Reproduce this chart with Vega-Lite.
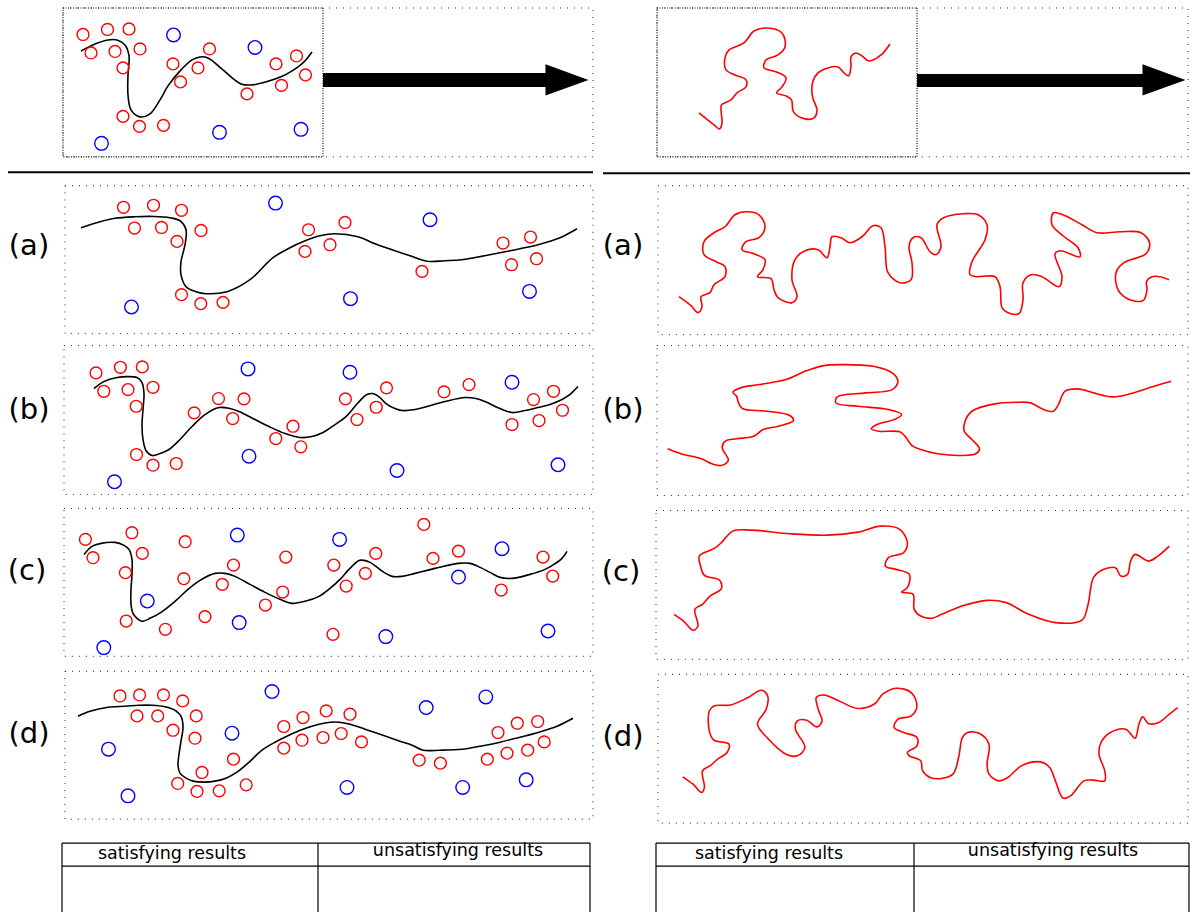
{
"$schema": "https://vega.github.io/schema/vega-lite/v6.json",
"width": 1192, "height": 913,
"autosize": {"type": "fit", "contains": "padding"},
"padding": 0,
"background": "white",
"config": {"view": {"stroke": null}},
"datasets": {
"boxes": [
{"kind":"outer","x":63,"x2":593,"y":8,"y2":157},
{"kind":"outer","x":657,"x2":1188,"y":8,"y2":157},
{"kind":"outer","x":65,"x2":593,"y":186,"y2":334},
{"kind":"outer","x":64,"x2":593,"y":346,"y2":495},
{"kind":"outer","x":64,"x2":593,"y":509,"y2":657},
{"kind":"outer","x":65,"x2":593,"y":672,"y2":820},
{"kind":"outer","x":658,"x2":1188,"y":186,"y2":335},
{"kind":"outer","x":657,"x2":1188,"y":346,"y2":496},
{"kind":"outer","x":656,"x2":1188,"y":511,"y2":660},
{"kind":"outer","x":658,"x2":1188,"y":675,"y2":824},
{"kind":"inner","x":63,"x2":323,"y":8,"y2":157},
{"kind":"inner","x":657,"x2":917,"y":8,"y2":157}
],
"rules": [
{"kind":"sep","x":8,"x2":593,"y":172.5,"y2":172.5},
{"kind":"sep","x":603,"x2":1190,"y":173.5,"y2":173.5},
{"kind":"table","x":62,"x2":590,"y":844,"y2":844},
{"kind":"table","x":62,"x2":590,"y":867,"y2":867},
{"kind":"table","x":62,"x2":62,"y":844,"y2":913},
{"kind":"table","x":318,"x2":318,"y":844,"y2":913},
{"kind":"table","x":590,"x2":590,"y":844,"y2":913},
{"kind":"table","x":656,"x2":1189,"y":844,"y2":844},
{"kind":"table","x":656,"x2":1189,"y":867,"y2":867},
{"kind":"table","x":656,"x2":656,"y":844,"y2":913},
{"kind":"table","x":914,"x2":914,"y":844,"y2":913},
{"kind":"table","x":1189,"x2":1189,"y":844,"y2":913}
],
"shafts": [
{"x":323,"x2":548,"y":73,"y2":87},
{"x":917,"x2":1145,"y":74,"y2":87}
],
"heads": [
{"x":567,"y":80},
{"x":1164,"y":80}
],
"labels": [
{"x":29,"y":246,"t":"(a)"},{"x":29,"y":410,"t":"(b)"},{"x":27,"y":572,"t":"(c)"},{"x":29,"y":735,"t":"(d)"},
{"x":623,"y":246,"t":"(a)"},{"x":623,"y":410,"t":"(b)"},{"x":621,"y":573,"t":"(c)"},{"x":623,"y":738,"t":"(d)"}
],
"headers": [
{"x":172,"y":855,"t":"satisfying results"},{"x":458,"y":852,"t":"unsatisfying results"},
{"x":769,"y":855,"t":"satisfying results"},{"x":1053,"y":852,"t":"unsatisfying results"}
],
"circles": [
{"p":"top","k":"red","x":83,"y":34.5},{"p":"top","k":"red","x":107.5,"y":29.5},{"p":"top","k":"red","x":129,"y":29},{"p":"top","k":"red","x":91,"y":53},{"p":"top","k":"red","x":115,"y":51.5},{"p":"top","k":"red","x":140,"y":49},{"p":"top","k":"red","x":123,"y":68},{"p":"top","k":"red","x":173,"y":64},{"p":"top","k":"red","x":209.5,"y":49},{"p":"top","k":"red","x":198,"y":68},{"p":"top","k":"red","x":180.5,"y":82},{"p":"top","k":"red","x":276,"y":64},{"p":"top","k":"red","x":296.5,"y":56},{"p":"top","k":"red","x":305.5,"y":75},{"p":"top","k":"red","x":281.5,"y":85.5},{"p":"top","k":"red","x":247,"y":94},{"p":"top","k":"red","x":123,"y":116.5},{"p":"top","k":"red","x":139.5,"y":126.5},{"p":"top","k":"red","x":163.5,"y":125.5},
{"p":"top","k":"blue","x":173.5,"y":35},{"p":"top","k":"blue","x":255,"y":47.5},{"p":"top","k":"blue","x":219.5,"y":132.5},{"p":"top","k":"blue","x":301,"y":129.5},{"p":"top","k":"blue","x":101.5,"y":143.5},
{"p":"a","k":"red","x":123.5,"y":207.5},{"p":"a","k":"red","x":153.5,"y":205.5},{"p":"a","k":"red","x":181.5,"y":210.5},{"p":"a","k":"red","x":134.5,"y":228.3},{"p":"a","k":"red","x":161.5,"y":227.7},{"p":"a","k":"red","x":201,"y":230.7},{"p":"a","k":"red","x":177,"y":241.7},{"p":"a","k":"red","x":181.5,"y":295},{"p":"a","k":"red","x":200.8,"y":304},{"p":"a","k":"red","x":223,"y":302.7},{"p":"a","k":"red","x":308.5,"y":230},{"p":"a","k":"red","x":345,"y":222.7},{"p":"a","k":"red","x":330,"y":245},{"p":"a","k":"red","x":305,"y":251.7},{"p":"a","k":"red","x":422,"y":271.7},{"p":"a","k":"red","x":503,"y":243.3},{"p":"a","k":"red","x":530.5,"y":237.3},{"p":"a","k":"red","x":536.5,"y":259},{"p":"a","k":"red","x":511.5,"y":265},
{"p":"a","k":"blue","x":275.5,"y":203.3},{"p":"a","k":"blue","x":430,"y":220},{"p":"a","k":"blue","x":131.5,"y":307.3},{"p":"a","k":"blue","x":350.5,"y":299},{"p":"a","k":"blue","x":529.5,"y":291.7},
{"p":"b","k":"red","x":96,"y":373.3},{"p":"b","k":"red","x":120.4,"y":367.7},{"p":"b","k":"red","x":142.3,"y":367.3},{"p":"b","k":"red","x":103.8,"y":391.7},{"p":"b","k":"red","x":128,"y":390},{"p":"b","k":"red","x":153,"y":387.7},{"p":"b","k":"red","x":136.2,"y":406.7},{"p":"b","k":"red","x":194.2,"y":413.3},{"p":"b","k":"red","x":218.5,"y":399},{"p":"b","k":"red","x":244,"y":399.3},{"p":"b","k":"red","x":232.7,"y":419},{"p":"b","k":"red","x":293,"y":426.7},{"p":"b","k":"red","x":275.8,"y":439},{"p":"b","k":"red","x":300.8,"y":447.3},{"p":"b","k":"red","x":136.5,"y":455},{"p":"b","k":"red","x":153,"y":465.7},{"p":"b","k":"red","x":176.2,"y":464},{"p":"b","k":"red","x":345.4,"y":399.3},{"p":"b","k":"red","x":386.5,"y":388.3},{"p":"b","k":"red","x":376.2,"y":407.7},{"p":"b","k":"red","x":357,"y":420},{"p":"b","k":"red","x":444,"y":392.3},{"p":"b","k":"red","x":469,"y":385},{"p":"b","k":"red","x":533.5,"y":400},{"p":"b","k":"red","x":553.5,"y":391.7},{"p":"b","k":"red","x":562.5,"y":410.7},{"p":"b","k":"red","x":539,"y":421},{"p":"b","k":"red","x":512,"y":425},
{"p":"b","k":"blue","x":248,"y":369.3},{"p":"b","k":"blue","x":350,"y":372.7},{"p":"b","k":"blue","x":512,"y":382.7},{"p":"b","k":"blue","x":249,"y":456.7},{"p":"b","k":"blue","x":397,"y":471},{"p":"b","k":"blue","x":558,"y":465.3},{"p":"b","k":"blue","x":114.5,"y":482.3},
{"p":"c","k":"red","x":85.4,"y":540},{"p":"c","k":"red","x":131.9,"y":533.3},{"p":"c","k":"red","x":185.2,"y":542.3},{"p":"c","k":"red","x":93,"y":558.3},{"p":"c","k":"red","x":142.3,"y":554},{"p":"c","k":"red","x":125.4,"y":573.3},{"p":"c","k":"red","x":183.8,"y":579.3},{"p":"c","k":"red","x":233.5,"y":565.7},{"p":"c","k":"red","x":222.3,"y":585},{"p":"c","k":"red","x":285.8,"y":557.7},{"p":"c","k":"red","x":282.7,"y":592.7},{"p":"c","k":"red","x":265.4,"y":605.7},{"p":"c","k":"red","x":126.2,"y":621.7},{"p":"c","k":"red","x":165.4,"y":630},{"p":"c","k":"red","x":205,"y":617.3},{"p":"c","k":"red","x":333.8,"y":565.7},{"p":"c","k":"red","x":346.2,"y":586.7},{"p":"c","k":"red","x":365.4,"y":574},{"p":"c","k":"red","x":375.8,"y":554},{"p":"c","k":"red","x":423.8,"y":525},{"p":"c","k":"red","x":433,"y":559},{"p":"c","k":"red","x":458.5,"y":551.7},{"p":"c","k":"red","x":501.2,"y":590.7},{"p":"c","k":"red","x":543,"y":557.7},{"p":"c","k":"red","x":552.7,"y":576.7},{"p":"c","k":"red","x":333,"y":635},
{"p":"c","k":"blue","x":237.3,"y":535.7},{"p":"c","k":"blue","x":339.6,"y":540},{"p":"c","k":"blue","x":502,"y":549.3},{"p":"c","k":"blue","x":458.5,"y":577.7},{"p":"c","k":"blue","x":147.3,"y":601.7},{"p":"c","k":"blue","x":239.2,"y":623.3},{"p":"c","k":"blue","x":385.8,"y":637.3},{"p":"c","k":"blue","x":548,"y":631.7},{"p":"c","k":"blue","x":103.8,"y":648.3},
{"p":"d","k":"red","x":120,"y":696.7},{"p":"d","k":"red","x":139.6,"y":695.7},{"p":"d","k":"red","x":163.5,"y":695.7},{"p":"d","k":"red","x":182.7,"y":701.7},{"p":"d","k":"red","x":137,"y":716.7},{"p":"d","k":"red","x":157.7,"y":716.7},{"p":"d","k":"red","x":196.2,"y":716.7},{"p":"d","k":"red","x":173,"y":731},{"p":"d","k":"red","x":195,"y":739},{"p":"d","k":"red","x":233.5,"y":760},{"p":"d","k":"red","x":202,"y":773.3},{"p":"d","k":"red","x":177.7,"y":784.3},{"p":"d","k":"red","x":197,"y":792.3},{"p":"d","k":"red","x":219.2,"y":791.7},{"p":"d","k":"red","x":246.2,"y":785.7},{"p":"d","k":"red","x":283.8,"y":727.3},{"p":"d","k":"red","x":303,"y":718.3},{"p":"d","k":"red","x":326.2,"y":711.7},{"p":"d","k":"red","x":350,"y":715},{"p":"d","k":"red","x":283.8,"y":749},{"p":"d","k":"red","x":302,"y":741},{"p":"d","k":"red","x":323,"y":738.3},{"p":"d","k":"red","x":341.2,"y":734.3},{"p":"d","k":"red","x":361.5,"y":742.7},{"p":"d","k":"red","x":419.2,"y":761},{"p":"d","k":"red","x":440.4,"y":764},{"p":"d","k":"red","x":498,"y":733.3},{"p":"d","k":"red","x":517.3,"y":724},{"p":"d","k":"red","x":537.7,"y":722.3},{"p":"d","k":"red","x":544.2,"y":742.7},{"p":"d","k":"red","x":527.7,"y":751},{"p":"d","k":"red","x":507,"y":754},{"p":"d","k":"red","x":487.3,"y":760},
{"p":"d","k":"blue","x":272,"y":692.3},{"p":"d","k":"blue","x":485.8,"y":697.7},{"p":"d","k":"blue","x":426.2,"y":708.3},{"p":"d","k":"blue","x":232,"y":734},{"p":"d","k":"blue","x":108.5,"y":750},{"p":"d","k":"blue","x":347,"y":788.3},{"p":"d","k":"blue","x":462.7,"y":788.3},{"p":"d","k":"blue","x":526.2,"y":780.7},{"p":"d","k":"blue","x":128,"y":796.7}
],
"fits": [
{"c":"top","x":81,"y":51},{"c":"top","x":95,"y":44},{"c":"top","x":108,"y":40},{"c":"top","x":117,"y":40},{"c":"top","x":125,"y":45},{"c":"top","x":129,"y":56},{"c":"top","x":128,"y":75},{"c":"top","x":128,"y":95},{"c":"top","x":131,"y":110},{"c":"top","x":140,"y":117},{"c":"top","x":150,"y":114},{"c":"top","x":160,"y":100},{"c":"top","x":168,"y":86},{"c":"top","x":181,"y":70},{"c":"top","x":192,"y":60},{"c":"top","x":200,"y":57},{"c":"top","x":208,"y":58},{"c":"top","x":223,"y":70},{"c":"top","x":241,"y":84},{"c":"top","x":252,"y":85},{"c":"top","x":262,"y":83},{"c":"top","x":285,"y":75},{"c":"top","x":298,"y":67},{"c":"top","x":304,"y":62},{"c":"top","x":312,"y":52},
{"c":"a","x":81,"y":228},{"c":"a","x":100,"y":222},{"c":"a","x":115,"y":218.5},{"c":"a","x":135,"y":217},{"c":"a","x":154,"y":216.7},{"c":"a","x":170,"y":218},{"c":"a","x":180,"y":221},{"c":"a","x":186,"y":230},{"c":"a","x":185,"y":245},{"c":"a","x":181,"y":262},{"c":"a","x":181,"y":275},{"c":"a","x":186,"y":287},{"c":"a","x":196,"y":292},{"c":"a","x":206,"y":294},{"c":"a","x":227,"y":292},{"c":"a","x":250,"y":280},{"c":"a","x":273,"y":258},{"c":"a","x":290,"y":248},{"c":"a","x":304,"y":241.5},{"c":"a","x":320,"y":236},{"c":"a","x":335,"y":234},{"c":"a","x":358,"y":237},{"c":"a","x":375,"y":244},{"c":"a","x":392,"y":250},{"c":"a","x":410,"y":256},{"c":"a","x":427,"y":261.5},{"c":"a","x":445,"y":261},{"c":"a","x":462,"y":260},{"c":"a","x":500,"y":253},{"c":"a","x":520,"y":249},{"c":"a","x":538,"y":245},{"c":"a","x":560,"y":238},{"c":"a","x":577,"y":229},
{"c":"b","x":94,"y":389},{"c":"b","x":104,"y":382},{"c":"b","x":117,"y":378},{"c":"b","x":127,"y":377},{"c":"b","x":137,"y":378},{"c":"b","x":142,"y":383},{"c":"b","x":144,"y":394},{"c":"b","x":143,"y":410},{"c":"b","x":142,"y":425},{"c":"b","x":143,"y":440},{"c":"b","x":146,"y":451},{"c":"b","x":152,"y":456},{"c":"b","x":160,"y":454},{"c":"b","x":169,"y":450},{"c":"b","x":180,"y":440},{"c":"b","x":192,"y":427},{"c":"b","x":205,"y":415},{"c":"b","x":219,"y":408},{"c":"b","x":230,"y":409},{"c":"b","x":239,"y":412},{"c":"b","x":255,"y":420},{"c":"b","x":269,"y":427},{"c":"b","x":285,"y":434},{"c":"b","x":300,"y":438},{"c":"b","x":312,"y":437},{"c":"b","x":323,"y":433},{"c":"b","x":335,"y":425},{"c":"b","x":346,"y":417},{"c":"b","x":354,"y":408},{"c":"b","x":361,"y":400},{"c":"b","x":367,"y":395},{"c":"b","x":373,"y":394},{"c":"b","x":380,"y":398},{"c":"b","x":386,"y":404},{"c":"b","x":395,"y":409},{"c":"b","x":402,"y":411},{"c":"b","x":415,"y":410},{"c":"b","x":427,"y":407},{"c":"b","x":445,"y":402},{"c":"b","x":465,"y":398},{"c":"b","x":476,"y":399},{"c":"b","x":485,"y":402},{"c":"b","x":500,"y":409},{"c":"b","x":512,"y":413},{"c":"b","x":525,"y":411},{"c":"b","x":538,"y":408},{"c":"b","x":550,"y":405},{"c":"b","x":562,"y":400},{"c":"b","x":571,"y":394},{"c":"b","x":578,"y":387},
{"c":"c","x":84,"y":555},{"c":"c","x":92,"y":547},{"c":"c","x":101,"y":544},{"c":"c","x":115,"y":543},{"c":"c","x":124,"y":546},{"c":"c","x":129,"y":550},{"c":"c","x":132,"y":560},{"c":"c","x":132,"y":575},{"c":"c","x":131,"y":590},{"c":"c","x":131,"y":605},{"c":"c","x":133,"y":614},{"c":"c","x":137,"y":619},{"c":"c","x":142,"y":622},{"c":"c","x":150,"y":619},{"c":"c","x":161,"y":613},{"c":"c","x":175,"y":602},{"c":"c","x":188,"y":590},{"c":"c","x":200,"y":581},{"c":"c","x":215,"y":574},{"c":"c","x":225,"y":574},{"c":"c","x":235,"y":577},{"c":"c","x":250,"y":585},{"c":"c","x":265,"y":593},{"c":"c","x":280,"y":600},{"c":"c","x":292,"y":604},{"c":"c","x":305,"y":602},{"c":"c","x":319,"y":597},{"c":"c","x":330,"y":589},{"c":"c","x":340,"y":580},{"c":"c","x":348,"y":571},{"c":"c","x":354,"y":565},{"c":"c","x":359,"y":561},{"c":"c","x":364,"y":561},{"c":"c","x":370,"y":563},{"c":"c","x":376,"y":567},{"c":"c","x":384,"y":573},{"c":"c","x":392,"y":577},{"c":"c","x":402,"y":577},{"c":"c","x":415,"y":574},{"c":"c","x":435,"y":569},{"c":"c","x":458,"y":564},{"c":"c","x":470,"y":564},{"c":"c","x":478,"y":567},{"c":"c","x":490,"y":573},{"c":"c","x":500,"y":578},{"c":"c","x":512,"y":579},{"c":"c","x":530,"y":575},{"c":"c","x":545,"y":570},{"c":"c","x":554,"y":565},{"c":"c","x":562,"y":559},{"c":"c","x":567,"y":552},
{"c":"d","x":78,"y":717},{"c":"d","x":90,"y":712},{"c":"d","x":108,"y":708},{"c":"d","x":125,"y":707},{"c":"d","x":139,"y":706},{"c":"d","x":152,"y":706},{"c":"d","x":165,"y":707.5},{"c":"d","x":175,"y":711},{"c":"d","x":181,"y":717},{"c":"d","x":183,"y":728},{"c":"d","x":181,"y":742},{"c":"d","x":179,"y":755},{"c":"d","x":178,"y":766},{"c":"d","x":180,"y":774},{"c":"d","x":186,"y":779},{"c":"d","x":193,"y":782},{"c":"d","x":205,"y":783},{"c":"d","x":215,"y":782},{"c":"d","x":226,"y":779},{"c":"d","x":237,"y":773},{"c":"d","x":248,"y":764},{"c":"d","x":262,"y":751},{"c":"d","x":275,"y":743},{"c":"d","x":289,"y":736},{"c":"d","x":303,"y":730},{"c":"d","x":319,"y":725},{"c":"d","x":330,"y":723},{"c":"d","x":339,"y":723},{"c":"d","x":350,"y":725},{"c":"d","x":365,"y":730},{"c":"d","x":383,"y":736},{"c":"d","x":400,"y":742},{"c":"d","x":412,"y":746},{"c":"d","x":423,"y":751},{"c":"d","x":440,"y":751},{"c":"d","x":462,"y":750},{"c":"d","x":480,"y":747},{"c":"d","x":500,"y":743},{"c":"d","x":520,"y":738},{"c":"d","x":539,"y":733},{"c":"d","x":557,"y":727},{"c":"d","x":573,"y":719}
],
"walks": [
{"c":"top","x":699,"y":113},{"c":"top","x":714,"y":125},{"c":"top","x":719.5,"y":129},{"c":"top","x":722,"y":123},{"c":"top","x":721,"y":110},{"c":"top","x":721.5,"y":105},{"c":"top","x":731,"y":100},{"c":"top","x":737,"y":93},{"c":"top","x":746,"y":87},{"c":"top","x":746,"y":80},{"c":"top","x":735,"y":75},{"c":"top","x":726,"y":70},{"c":"top","x":725,"y":58},{"c":"top","x":729,"y":50},{"c":"top","x":744,"y":43},{"c":"top","x":754,"y":31},{"c":"top","x":767,"y":28},{"c":"top","x":782,"y":33},{"c":"top","x":785,"y":47},{"c":"top","x":778,"y":55},{"c":"top","x":766,"y":60},{"c":"top","x":764,"y":68},{"c":"top","x":776.5,"y":72},{"c":"top","x":786,"y":78},{"c":"top","x":782,"y":87},{"c":"top","x":776.5,"y":93},{"c":"top","x":786,"y":96},{"c":"top","x":791.5,"y":100},{"c":"top","x":793.5,"y":112},{"c":"top","x":805,"y":119},{"c":"top","x":814,"y":118},{"c":"top","x":817,"y":110},{"c":"top","x":812.5,"y":97},{"c":"top","x":812.5,"y":83},{"c":"top","x":818,"y":73},{"c":"top","x":828,"y":68},{"c":"top","x":838,"y":67},{"c":"top","x":843,"y":72},{"c":"top","x":848.5,"y":76},{"c":"top","x":851,"y":67},{"c":"top","x":851,"y":57},{"c":"top","x":856,"y":53},{"c":"top","x":862,"y":56},{"c":"top","x":869,"y":61},{"c":"top","x":881,"y":55},{"c":"top","x":890,"y":44},
{"c":"a","x":679,"y":297},{"c":"a","x":691,"y":306},{"c":"a","x":698,"y":313},{"c":"a","x":702,"y":307},{"c":"a","x":701,"y":297},{"c":"a","x":710,"y":293},{"c":"a","x":714,"y":285},{"c":"a","x":725,"y":277},{"c":"a","x":725,"y":267},{"c":"a","x":716,"y":262},{"c":"a","x":704,"y":255},{"c":"a","x":704,"y":242},{"c":"a","x":714,"y":233},{"c":"a","x":725,"y":227},{"c":"a","x":735,"y":215},{"c":"a","x":746,"y":212},{"c":"a","x":759,"y":215},{"c":"a","x":765,"y":227},{"c":"a","x":759,"y":238},{"c":"a","x":746,"y":242},{"c":"a","x":742,"y":250},{"c":"a","x":754,"y":254},{"c":"a","x":765,"y":260},{"c":"a","x":763,"y":270},{"c":"a","x":757.5,"y":277},{"c":"a","x":771,"y":279},{"c":"a","x":774,"y":290},{"c":"a","x":778,"y":298},{"c":"a","x":792,"y":303},{"c":"a","x":797,"y":297},{"c":"a","x":792,"y":280},{"c":"a","x":795,"y":260},{"c":"a","x":805,"y":251},{"c":"a","x":818,"y":250},{"c":"a","x":827,"y":258},{"c":"a","x":830,"y":247},{"c":"a","x":832,"y":237},{"c":"a","x":841,"y":238},{"c":"a","x":850,"y":243},{"c":"a","x":862,"y":237},{"c":"a","x":873,"y":226},{"c":"a","x":881,"y":228},{"c":"a","x":885,"y":247},{"c":"a","x":888,"y":273},{"c":"a","x":900,"y":283},{"c":"a","x":911,"y":280},{"c":"a","x":912,"y":263},{"c":"a","x":909,"y":247},{"c":"a","x":913,"y":238},{"c":"a","x":921,"y":238},{"c":"a","x":930,"y":252},{"c":"a","x":936,"y":255},{"c":"a","x":941,"y":247},{"c":"a","x":937,"y":225},{"c":"a","x":943.5,"y":218},{"c":"a","x":964,"y":214},{"c":"a","x":978,"y":215},{"c":"a","x":987,"y":225},{"c":"a","x":985,"y":240},{"c":"a","x":972,"y":262},{"c":"a","x":970,"y":275},{"c":"a","x":976,"y":277},{"c":"a","x":995,"y":277},{"c":"a","x":1000,"y":287},{"c":"a","x":1002,"y":308},{"c":"a","x":1008,"y":313},{"c":"a","x":1019,"y":314},{"c":"a","x":1023,"y":300},{"c":"a","x":1023,"y":283},{"c":"a","x":1031,"y":275},{"c":"a","x":1042,"y":277},{"c":"a","x":1059,"y":287},{"c":"a","x":1062,"y":277},{"c":"a","x":1055,"y":254},{"c":"a","x":1060,"y":251},{"c":"a","x":1080,"y":257},{"c":"a","x":1078,"y":248},{"c":"a","x":1063,"y":236},{"c":"a","x":1052,"y":225},{"c":"a","x":1053.5,"y":213},{"c":"a","x":1063,"y":215},{"c":"a","x":1082,"y":225},{"c":"a","x":1097,"y":233},{"c":"a","x":1120,"y":232},{"c":"a","x":1141,"y":233},{"c":"a","x":1149.5,"y":243},{"c":"a","x":1146,"y":254},{"c":"a","x":1124,"y":263},{"c":"a","x":1116,"y":273},{"c":"a","x":1118,"y":290},{"c":"a","x":1127.5,"y":299},{"c":"a","x":1143,"y":301},{"c":"a","x":1147,"y":290},{"c":"a","x":1146.5,"y":282},{"c":"a","x":1152,"y":277},{"c":"a","x":1160,"y":277},{"c":"a","x":1169,"y":280},
{"c":"b","x":667.6,"y":449.3},{"c":"b","x":683.5,"y":455},{"c":"b","x":700.6,"y":459},{"c":"b","x":712,"y":464.3},{"c":"b","x":721.4,"y":466},{"c":"b","x":728.3,"y":460.7},{"c":"b","x":722.2,"y":448.3},{"c":"b","x":725.2,"y":441.7},{"c":"b","x":736.6,"y":439.3},{"c":"b","x":753.7,"y":436.7},{"c":"b","x":763.2,"y":430},{"c":"b","x":778.4,"y":426.7},{"c":"b","x":793.5,"y":421},{"c":"b","x":789.8,"y":416},{"c":"b","x":767,"y":411.7},{"c":"b","x":742.3,"y":409},{"c":"b","x":738.5,"y":403.3},{"c":"b","x":736.6,"y":396.7},{"c":"b","x":732.8,"y":392.7},{"c":"b","x":740.4,"y":388.3},{"c":"b","x":759.4,"y":385},{"c":"b","x":786,"y":380},{"c":"b","x":805,"y":371.7},{"c":"b","x":823.9,"y":366},{"c":"b","x":842.9,"y":365},{"c":"b","x":873.2,"y":366.7},{"c":"b","x":892.2,"y":373.3},{"c":"b","x":897.9,"y":381.7},{"c":"b","x":892.2,"y":390},{"c":"b","x":865.7,"y":393.3},{"c":"b","x":837.2,"y":397.3},{"c":"b","x":836,"y":403.3},{"c":"b","x":858,"y":406.7},{"c":"b","x":888.4,"y":410},{"c":"b","x":901.7,"y":415},{"c":"b","x":896,"y":419.3},{"c":"b","x":877,"y":425},{"c":"b","x":871.3,"y":429.3},{"c":"b","x":878.9,"y":431.7},{"c":"b","x":899.8,"y":432.3},{"c":"b","x":905.5,"y":437.3},{"c":"b","x":912,"y":446},{"c":"b","x":920.7,"y":450},{"c":"b","x":937.8,"y":454.3},{"c":"b","x":960.5,"y":456},{"c":"b","x":975.7,"y":454.3},{"c":"b","x":979.5,"y":449.3},{"c":"b","x":971.9,"y":440},{"c":"b","x":964.3,"y":431.7},{"c":"b","x":965.1,"y":421.7},{"c":"b","x":971.9,"y":411.7},{"c":"b","x":994.7,"y":404.3},{"c":"b","x":1017.5,"y":402.7},{"c":"b","x":1030.7,"y":403.3},{"c":"b","x":1042.1,"y":409.3},{"c":"b","x":1053.5,"y":411.7},{"c":"b","x":1058.4,"y":405},{"c":"b","x":1064.9,"y":391.7},{"c":"b","x":1078.2,"y":389.3},{"c":"b","x":1093.4,"y":393.3},{"c":"b","x":1112.3,"y":397.3},{"c":"b","x":1131.3,"y":394},{"c":"b","x":1154.1,"y":386.7},{"c":"b","x":1171.2,"y":381.7},
{"c":"c","x":674,"y":615},{"c":"c","x":683.5,"y":621.7},{"c":"c","x":693,"y":631},{"c":"c","x":697.9,"y":626.7},{"c":"c","x":694.9,"y":610},{"c":"c","x":702.5,"y":605},{"c":"c","x":710,"y":596.7},{"c":"c","x":721.4,"y":589.3},{"c":"c","x":719.5,"y":580.7},{"c":"c","x":704.4,"y":576},{"c":"c","x":700.6,"y":566.7},{"c":"c","x":699.4,"y":556.5},{"c":"c","x":713.9,"y":549.3},{"c":"c","x":721.4,"y":543.3},{"c":"c","x":732.8,"y":531.7},{"c":"c","x":751.8,"y":530.7},{"c":"c","x":789.8,"y":534.3},{"c":"c","x":827.7,"y":535.7},{"c":"c","x":858,"y":532.7},{"c":"c","x":880.8,"y":526.7},{"c":"c","x":899.8,"y":530},{"c":"c","x":907.4,"y":543.3},{"c":"c","x":903.6,"y":553.3},{"c":"c","x":888.4,"y":558.3},{"c":"c","x":885.4,"y":566.7},{"c":"c","x":896,"y":570},{"c":"c","x":909.3,"y":575},{"c":"c","x":907.4,"y":588.3},{"c":"c","x":901.7,"y":592.7},{"c":"c","x":913.1,"y":595},{"c":"c","x":914.2,"y":610},{"c":"c","x":920.7,"y":616.7},{"c":"c","x":932,"y":619},{"c":"c","x":941.6,"y":615},{"c":"c","x":964.3,"y":606},{"c":"c","x":987.1,"y":601},{"c":"c","x":1006.1,"y":603.3},{"c":"c","x":1028.8,"y":615},{"c":"c","x":1055.4,"y":623.3},{"c":"c","x":1082,"y":620.7},{"c":"c","x":1087.7,"y":606.7},{"c":"c","x":1093.4,"y":578.3},{"c":"c","x":1100.2,"y":571.7},{"c":"c","x":1115.4,"y":568.3},{"c":"c","x":1120.7,"y":576.7},{"c":"c","x":1127.5,"y":575},{"c":"c","x":1130.6,"y":561.7},{"c":"c","x":1135.1,"y":555},{"c":"c","x":1148.4,"y":561.7},{"c":"c","x":1157.9,"y":556.7},{"c":"c","x":1169.3,"y":546.7},
{"c":"d","x":682.7,"y":777.7},{"c":"d","x":693,"y":785},{"c":"d","x":701.7,"y":793.3},{"c":"d","x":704.4,"y":788.3},{"c":"d","x":702.5,"y":771.7},{"c":"d","x":710,"y":766.7},{"c":"d","x":717.6,"y":760},{"c":"d","x":727.1,"y":753.3},{"c":"d","x":729,"y":745},{"c":"d","x":713.9,"y":741},{"c":"d","x":709.3,"y":731.7},{"c":"d","x":709.3,"y":711.7},{"c":"d","x":713.9,"y":706.7},{"c":"d","x":730.9,"y":705.7},{"c":"d","x":748,"y":698.3},{"c":"d","x":761.3,"y":691},{"c":"d","x":767.7,"y":696.7},{"c":"d","x":766.2,"y":710},{"c":"d","x":757.5,"y":725},{"c":"d","x":767,"y":738.3},{"c":"d","x":786,"y":755},{"c":"d","x":797.3,"y":756.7},{"c":"d","x":804.9,"y":748.3},{"c":"d","x":795.4,"y":730},{"c":"d","x":797.3,"y":721.7},{"c":"d","x":806.8,"y":721},{"c":"d","x":817.1,"y":727.7},{"c":"d","x":822,"y":721.7},{"c":"d","x":818.2,"y":710},{"c":"d","x":816.3,"y":698.3},{"c":"d","x":823.9,"y":695.7},{"c":"d","x":839.1,"y":701.7},{"c":"d","x":858,"y":709.3},{"c":"d","x":875.1,"y":704.3},{"c":"d","x":882.7,"y":695},{"c":"d","x":896,"y":689},{"c":"d","x":911.2,"y":693.3},{"c":"d","x":916.9,"y":706.7},{"c":"d","x":911.2,"y":716.7},{"c":"d","x":897.9,"y":720},{"c":"d","x":894.1,"y":728.3},{"c":"d","x":903.6,"y":733.3},{"c":"d","x":916.9,"y":738.3},{"c":"d","x":916.9,"y":746.7},{"c":"d","x":907.4,"y":753.3},{"c":"d","x":909.3,"y":756.7},{"c":"d","x":920.7,"y":761.7},{"c":"d","x":922.6,"y":771.7},{"c":"d","x":930.2,"y":778.3},{"c":"d","x":941.6,"y":779.3},{"c":"d","x":953,"y":775},{"c":"d","x":958.6,"y":758.3},{"c":"d","x":962.4,"y":738.3},{"c":"d","x":967.4,"y":733.3},{"c":"d","x":979.5,"y":734.3},{"c":"d","x":989,"y":745},{"c":"d","x":987.1,"y":765},{"c":"d","x":989,"y":775},{"c":"d","x":998.5,"y":781.7},{"c":"d","x":1008,"y":778.3},{"c":"d","x":1021.3,"y":766.7},{"c":"d","x":1040.2,"y":762.7},{"c":"d","x":1049.7,"y":768.3},{"c":"d","x":1055.4,"y":781.7},{"c":"d","x":1063,"y":799},{"c":"d","x":1070.6,"y":796.7},{"c":"d","x":1083.9,"y":781.7},{"c":"d","x":1093.4,"y":781},{"c":"d","x":1104.7,"y":781.7},{"c":"d","x":1104.7,"y":771.7},{"c":"d","x":1099,"y":755},{"c":"d","x":1101,"y":743.3},{"c":"d","x":1110.4,"y":733.3},{"c":"d","x":1125.6,"y":730},{"c":"d","x":1135.1,"y":739},{"c":"d","x":1138.9,"y":725},{"c":"d","x":1142.7,"y":717.7},{"c":"d","x":1148.4,"y":724.3},{"c":"d","x":1158.6,"y":723.3},{"c":"d","x":1169.3,"y":715},{"c":"d","x":1177.6,"y":708.3}
]
},
"encoding": {
"x": {"field": "x", "type": "quantitative", "scale": {"domain": [0, 1192], "nice": false, "zero": false}, "axis": null},
"y": {"field": "y", "type": "quantitative", "scale": {"domain": [0, 913], "nice": false, "zero": false, "reverse": true}, "axis": null}
},
"layer": [
{"data": {"name": "boxes"}, "transform": [{"filter": "datum.kind === 'outer'"}],
 "mark": {"type": "rect", "filled": false, "stroke": "#222222", "strokeWidth": 1, "strokeDash": [1, 6]},
 "encoding": {"x2": {"field": "x2"}, "y2": {"field": "y2"}}},
{"data": {"name": "boxes"}, "transform": [{"filter": "datum.kind === 'inner'"}],
 "mark": {"type": "rect", "filled": false, "stroke": "#111111", "strokeWidth": 1.2, "strokeDash": [1, 1.5]},
 "encoding": {"x2": {"field": "x2"}, "y2": {"field": "y2"}}},
{"data": {"name": "rules"}, "transform": [{"filter": "datum.kind === 'sep'"}],
 "mark": {"type": "rule", "color": "black", "strokeWidth": 2},
 "encoding": {"x2": {"field": "x2"}, "y2": {"field": "y2"}}},
{"data": {"name": "rules"}, "transform": [{"filter": "datum.kind === 'table'"}],
 "mark": {"type": "rule", "color": "black", "strokeWidth": 1.2},
 "encoding": {"x2": {"field": "x2"}, "y2": {"field": "y2"}}},
{"data": {"name": "shafts"},
 "mark": {"type": "rect", "color": "black"},
 "encoding": {"x2": {"field": "x2"}, "y2": {"field": "y2"}}},
{"data": {"name": "heads"},
 "mark": {"type": "point", "shape": "M-1,-0.73L1,0L-1,0.73Z", "filled": true, "color": "black", "size": 1850, "opacity": 1}},
{"data": {"name": "fits"},
 "mark": {"type": "line", "interpolate": "catmull-rom", "color": "black", "strokeWidth": 1.6},
 "encoding": {"detail": {"field": "c", "type": "nominal"}, "order": {"value": null}}},
{"data": {"name": "walks"},
 "mark": {"type": "line", "interpolate": "catmull-rom", "color": "#ff0000", "strokeWidth": 1.6},
 "encoding": {"detail": {"field": "c", "type": "nominal"}, "order": {"value": null}}},
{"data": {"name": "circles"},
 "mark": {"type": "point", "shape": "circle", "filled": false, "strokeWidth": 1.4, "opacity": 1},
 "encoding": {
  "color": {"field": "k", "type": "nominal", "scale": {"domain": ["red", "blue"], "range": ["#ff0000", "#0000ff"]}, "legend": null},
  "size": {"field": "k", "type": "ordinal", "scale": {"domain": ["red", "blue"], "range": [140, 185]}, "legend": null}}},
{"data": {"name": "labels"},
 "mark": {"type": "text", "font": "DejaVu Sans", "fontSize": 29, "align": "center", "baseline": "middle", "color": "black"},
 "encoding": {"text": {"field": "t"}}},
{"data": {"name": "headers"},
 "mark": {"type": "text", "font": "DejaVu Sans", "fontSize": 17.5, "align": "center", "baseline": "middle", "color": "black"},
 "encoding": {"text": {"field": "t"}}}
]
}
